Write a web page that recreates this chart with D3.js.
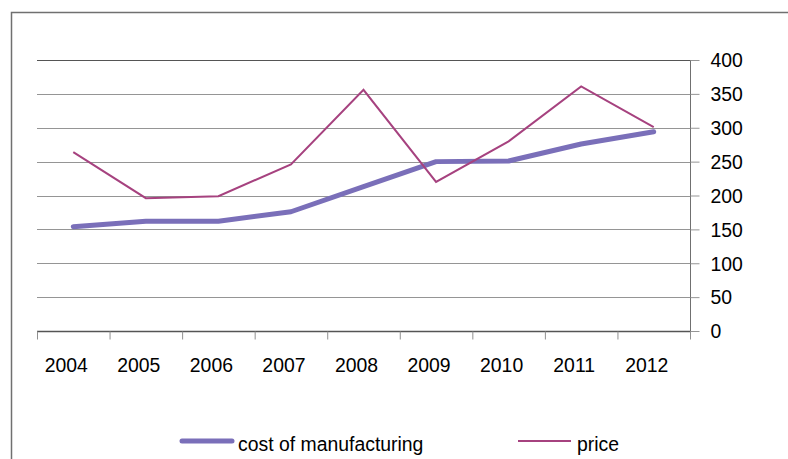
<!DOCTYPE html>
<html><head><meta charset="utf-8">
<script src="https://cdn.jsdelivr.net/npm/d3@7"></script>
<style>body{margin:0;background:#fff}svg{display:block}text{font-family:"Liberation Sans",Arial,sans-serif;fill:#000}</style>
</head><body><svg id="c" width="788" height="459"></svg>
<script>
const years = ["2004","2005","2006","2007","2008","2009","2010","2011","2012"];
const cost = [154,162,162,176,213,250,251,276,294];
const price = [264,196,199,246,356,220,280,361,301];
const yTicks = [0,50,100,150,200,250,300,350,400];
const seriesNames = ["cost of manufacturing","price"];

const svg = d3.select("#c");
const L=37,R=690,T=60,B=331;
const FS=19.4;
const x = d3.scaleBand().domain(years).range([L,R]);
const y = d3.scaleLinear().domain([0,400]).range([B,T]);

svg.append("path").attr("d","M11.5,459 V12.5 H788").attr("fill","none").attr("stroke","#707070").attr("stroke-width",1.5);

svg.append("g").selectAll("line").data(yTicks.filter(d=>d>0)).join("line")
  .attr("x1",L).attr("x2",R).attr("y1",d=>Math.round(y(d))+0.5).attr("y2",d=>Math.round(y(d))+0.5)
  .attr("stroke",d=>d===400?"#555":"#959595").attr("stroke-width",1.2);

const ya = d3.axisRight(y).tickValues(yTicks).tickSize(9).tickPadding(11);
const gy = svg.append("g").attr("transform",`translate(${R+0.5},0)`).call(ya);
gy.select(".domain").attr("stroke","#707070").attr("d",`M0,${T}V${B+8}`);
gy.selectAll(".tick line").attr("stroke","#959595");
gy.selectAll("text").attr("font-size",FS).attr("dy","0.35em").style("font-family","Liberation Sans, Arial");

const gx = svg.append("g").attr("transform",`translate(0,${B+0.5})`);
gx.append("line").attr("x1",L).attr("x2",R).attr("stroke","#555").attr("stroke-width",1.3);
const bounds = years.map(d=>x(d)).concat([R]);
gx.selectAll("line.tk").data(bounds).join("line").attr("class","tk")
  .attr("x1",d=>d+0.5).attr("x2",d=>d+0.5).attr("y1",0).attr("y2",8).attr("stroke","#909090");
gx.selectAll("text").data(years).join("text")
  .attr("x",d=>x(d)+x.bandwidth()/2-7).attr("y",40).attr("text-anchor","middle")
  .attr("font-size",FS).text(d=>d);

const line = d3.line().x((d,i)=>x(years[i])+x.bandwidth()/2).y(d=>y(d));
svg.append("path").datum(cost).attr("d",line).attr("fill","none").attr("stroke","#7a6fb9").attr("stroke-width",5).attr("stroke-linecap","round").attr("stroke-linejoin","round");
svg.append("path").datum(price).attr("d",line).attr("fill","none").attr("stroke","#a6427f").attr("stroke-width",2);

const lg = svg.append("g");
lg.append("line").attr("x1",182).attr("x2",232).attr("y1",441).attr("y2",441).attr("stroke","#7a6fb9").attr("stroke-width",5).attr("stroke-linecap","round");
lg.append("text").attr("x",238).attr("y",451).attr("font-size",FS).text(seriesNames[0]);
lg.append("line").attr("x1",518).attr("x2",571).attr("y1",441).attr("y2",441).attr("stroke","#a6427f").attr("stroke-width",2);
lg.append("text").attr("x",577).attr("y",451).attr("font-size",FS).text(seriesNames[1]);
</script></body></html>
